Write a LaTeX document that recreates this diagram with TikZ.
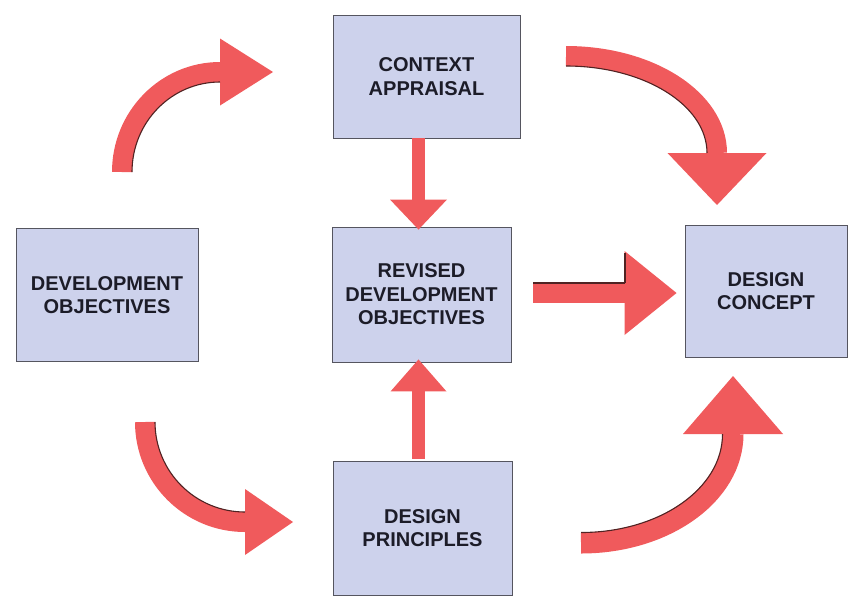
\documentclass[tikz,border=0pt]{standalone}
\usepackage{fontspec}
\setmainfont{Liberation Sans}
\usetikzlibrary{arrows.meta}
\definecolor{boxfill}{RGB}{205,210,236}
\definecolor{boxline}{RGB}{85,85,95}
\definecolor{arrowred}{RGB}{240,90,92}
\definecolor{arrowdark}{RGB}{80,35,35}
\definecolor{txt}{RGB}{28,28,40}
\begin{document}
\begin{tikzpicture}[x=1pt,y=-1pt,
  box/.style={draw=boxline, line width=0.9pt, fill=boxfill, align=center,
    font=\fontsize{20}{23.5}\selectfont\bfseries, text=txt, inner sep=0pt},
  fatarrow/.style n args={3}{draw=arrowred, line width=#1,
    -{Triangle[length=#2, width=#3, line width=0pt]}},
  shade/.style={draw=arrowdark, line width=1.1pt}
]
\useasboundingbox (0,0) rectangle (848,598);

% boxes
\node[box, minimum width=187pt, minimum height=123pt] (ctx) at (426.5,76.5) {CONTEXT\\APPRAISAL};
\node[box, minimum width=182pt, minimum height=133pt] (dev) at (107,295) {DEVELOPMENT\\OBJECTIVES};
\node[box, minimum width=179pt, minimum height=135pt] (rev) at (421.5,294.5) {REVISED\\DEVELOPMENT\\OBJECTIVES};
\node[box, minimum width=179pt, minimum height=134pt] (dp) at (422.5,528) {DESIGN\\PRINCIPLES};
\node[box, minimum width=162pt, minimum height=132pt] (dc) at (766,291) {DESIGN\\CONCEPT};

% free ends of the curved arrows
\coordinate (a1s) at (122,172);
\coordinate (a1e) at (273,72);
\coordinate (a2s) at (566,56);
\coordinate (a2e) at (717,205);
\coordinate (a3s) at (145,422);
\coordinate (a3e) at (293,522);
\coordinate (a4s) at (581,543);
\coordinate (a4e) at (733,376);

% curved arrows
\draw[fatarrow={20pt}{53pt}{67pt}] (a1s) .. controls (122,116.8) and (165.9,72) .. (220,72) -- (a1e);
\draw[shade] (132,172) .. controls (132,122.3) and (171.4,82) .. (220,82);

\draw[fatarrow={20pt}{52pt}{99pt}] (a2s) .. controls (649.4,56) and (717,99.4) .. (717,153) -- (a2e);
\draw[shade] (566,66) .. controls (643.9,66) and (707,105) .. (707,153);

\draw[fatarrow={20pt}{48pt}{66pt}] (a3s) .. controls (145,477.2) and (189.8,522) .. (245,522) -- (a3e);
\draw[shade] (155,422) .. controls (155,471.7) and (195.3,512) .. (245,512);

\draw[fatarrow={21pt}{58pt}{100pt}] (a4s) .. controls (665,543) and (733,494.2) .. (733,434) -- (a4e);
\draw[shade] (581,532.5) .. controls (659.4,532.5) and (722.5,488.7) .. (722.5,434);

% straight arrows
\draw[fatarrow={13pt}{30pt}{57pt}] (ctx.south -| 418.5,0) -- ([yshift=-3pt]rev.north -| 418.5,0);
\draw[fatarrow={13pt}{32pt}{56pt}] ([yshift=2pt]dp.north -| 418.5,0) -- ([yshift=3pt]rev.south -| 418.5,0);
\draw[fatarrow={20pt}{52pt}{84pt}] ([xshift=22pt]rev.east |- 0,293) -- ([xshift=-8pt]dc.west |- 0,293);
\draw[shade] ([xshift=22pt]rev.east |- 0,283) -- (625,283);
\draw[shade] (625,253) -- (625,283);

\end{tikzpicture}
\end{document}
